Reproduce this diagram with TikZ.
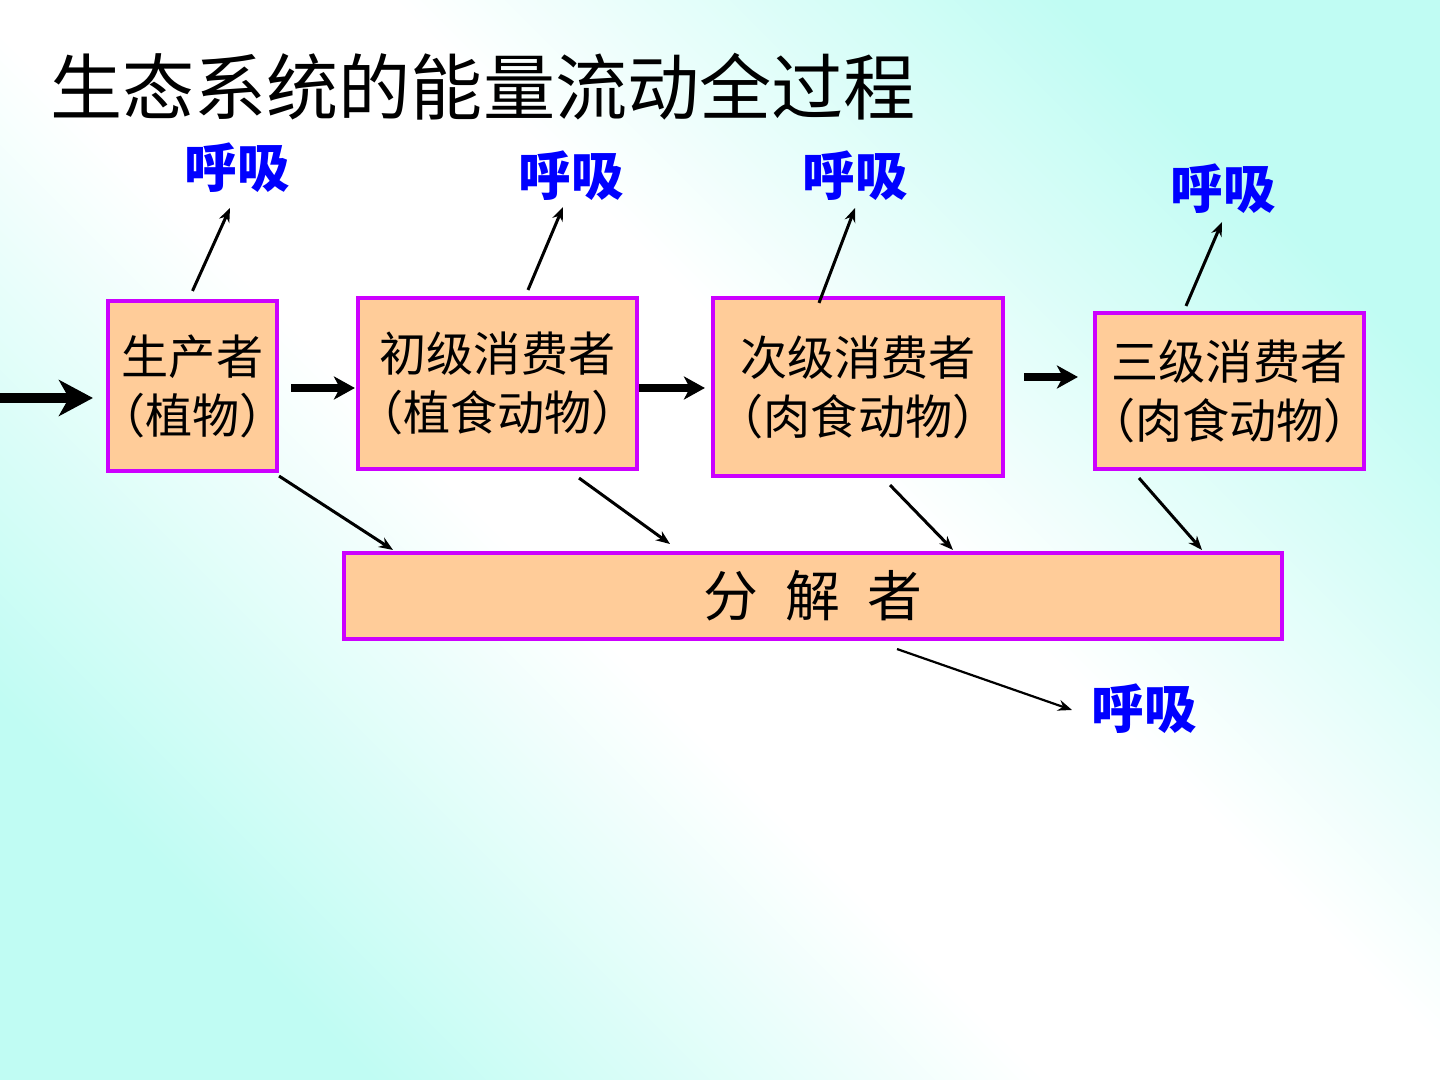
\documentclass[tikz,border=0pt]{standalone}
\usepackage{fontspec}
\newfontfamily\cjk{Noto Sans CJK SC}
\usetikzlibrary{arrows.meta,calc}
\definecolor{bgcyan}{RGB}{192,252,243}
\definecolor{boxfill}{RGB}{255,204,153}
\definecolor{boxedge}{RGB}{204,0,255}
\definecolor{resp}{RGB}{0,0,255}
\pgfdeclareverticalshading{bgshade}{100bp}{color(0bp)=(bgcyan); color(25bp)=(bgcyan); color(44bp)=(white); color(56bp)=(white); color(75bp)=(bgcyan); color(100bp)=(bgcyan)}
\newcommand\lpar{\makebox[0.6em][r]{（}}
\newcommand\rpar{\makebox[0.6em][l]{）}}
\begin{document}
\begin{tikzpicture}[x=0.01cm,y=-0.01cm,
  box/.style={draw=boxedge, line width=0.04cm, fill=boxfill, inner sep=0pt, align=center,
    font=\cjk\fontsize{13.4}{16.8}\selectfont},
  resplabel/.style={text=resp, inner sep=0pt, font=\cjk\bfseries\fontsize{15}{18}\selectfont},
  thinarrow/.style={-{Stealth[length=0.14cm,width=0.11cm]}, line width=0.03cm},
  bigarrow/.style={-{Stealth[length=0.21cm,width=0.23cm,inset=0.06cm]}, line width=0.075cm},
  inarrow/.style={-{Stealth[length=0.34cm,width=0.36cm,inset=0.1cm]}, line width=0.1cm}]
\useasboundingbox (0,0) rectangle (1440,1080);
\shade[shading=bgshade, shading angle=-45] (0,0) rectangle (1440,1080);

\node[inner sep=0pt, font=\cjk\fontsize{20.5}{24}\selectfont] (title) at (483,87) {生态系统的能量流动全过程};

\node[box, minimum width=1.69cm, minimum height=1.70cm] (b1) at (192.5,386) {生产者\\\lpar 植物\rpar};
\node[box, minimum width=2.79cm, minimum height=1.71cm] (b2) at (497.5,383.5) {初级消费者\\\lpar 植食动物\rpar};
\node[box, minimum width=2.90cm, minimum height=1.78cm] (b3) at (858,387) {次级消费者\\\lpar 肉食动物\rpar};
\node[box, minimum width=2.69cm, minimum height=1.56cm] (b4) at (1229.5,391) {三级消费者\\\lpar 肉食动物\rpar};
\node[box, minimum width=9.38cm, minimum height=0.86cm, font=\cjk\fontsize{15.6}{18}\selectfont] (dec) at (813,596) {分\hspace{7.7pt}解\hspace{7.7pt}者};

\node[resplabel] (r1) at (237,168) {呼吸};
\node[resplabel] (r2) at (571,176) {呼吸};
\node[resplabel] (r3) at (855,176) {呼吸};
\node[resplabel] (r4) at (1223,189) {呼吸};
\node[resplabel] (r5) at (1144,709) {呼吸};

\coordinate (src) at (0,398);
\draw[inarrow] (src) -- ($(b1.west)+(-13,12)$);
\draw[bigarrow] ($(b1.east)+(12,2)$) -- ($(b2.west)+(-1,4.5)$);
\draw[bigarrow] ($(b2.east)+(0,4.5)$) -- ($(b3.west)+(-6,1)$);
\draw[bigarrow] ($(b3.east)+(19,-10)$) -- ($(b4.west)+(-15,-14)$);

\draw[thinarrow] ($(b1.north)+(0,-8)$) -- ($(r1.center)+(-7,40)$);
\draw[thinarrow] ($(b2.north)+(30.5,-6)$) -- ($(r2.center)+(-8,31)$);
\draw[thinarrow] ($(b3.north)+(-39,7)$) -- ($(r3.center)+(0,32)$);
\draw[thinarrow] ($(b4.north)+(-43.5,-5)$) -- ($(r4.center)+(-1,33)$);
\draw[thinarrow, line width=0.022cm] ($(dec.south)+(84,8)$) -- ($(r5.center)+(-72,1)$);

\draw[thinarrow] ($(b1.south east)+(0,3)$) -- ($(dec.north)+(-420,-1)$);
\draw[thinarrow] ($(b2.south)+(81.5,7)$) -- ($(dec.north)+(-143,-7)$);
\draw[thinarrow] ($(b3.south)+(32,7)$) -- ($(dec.north)+(140,-1)$);
\draw[thinarrow] ($(b4.south)+(-90.5,7)$) -- ($(dec.north)+(389,-1)$);
\end{tikzpicture}
\end{document}
